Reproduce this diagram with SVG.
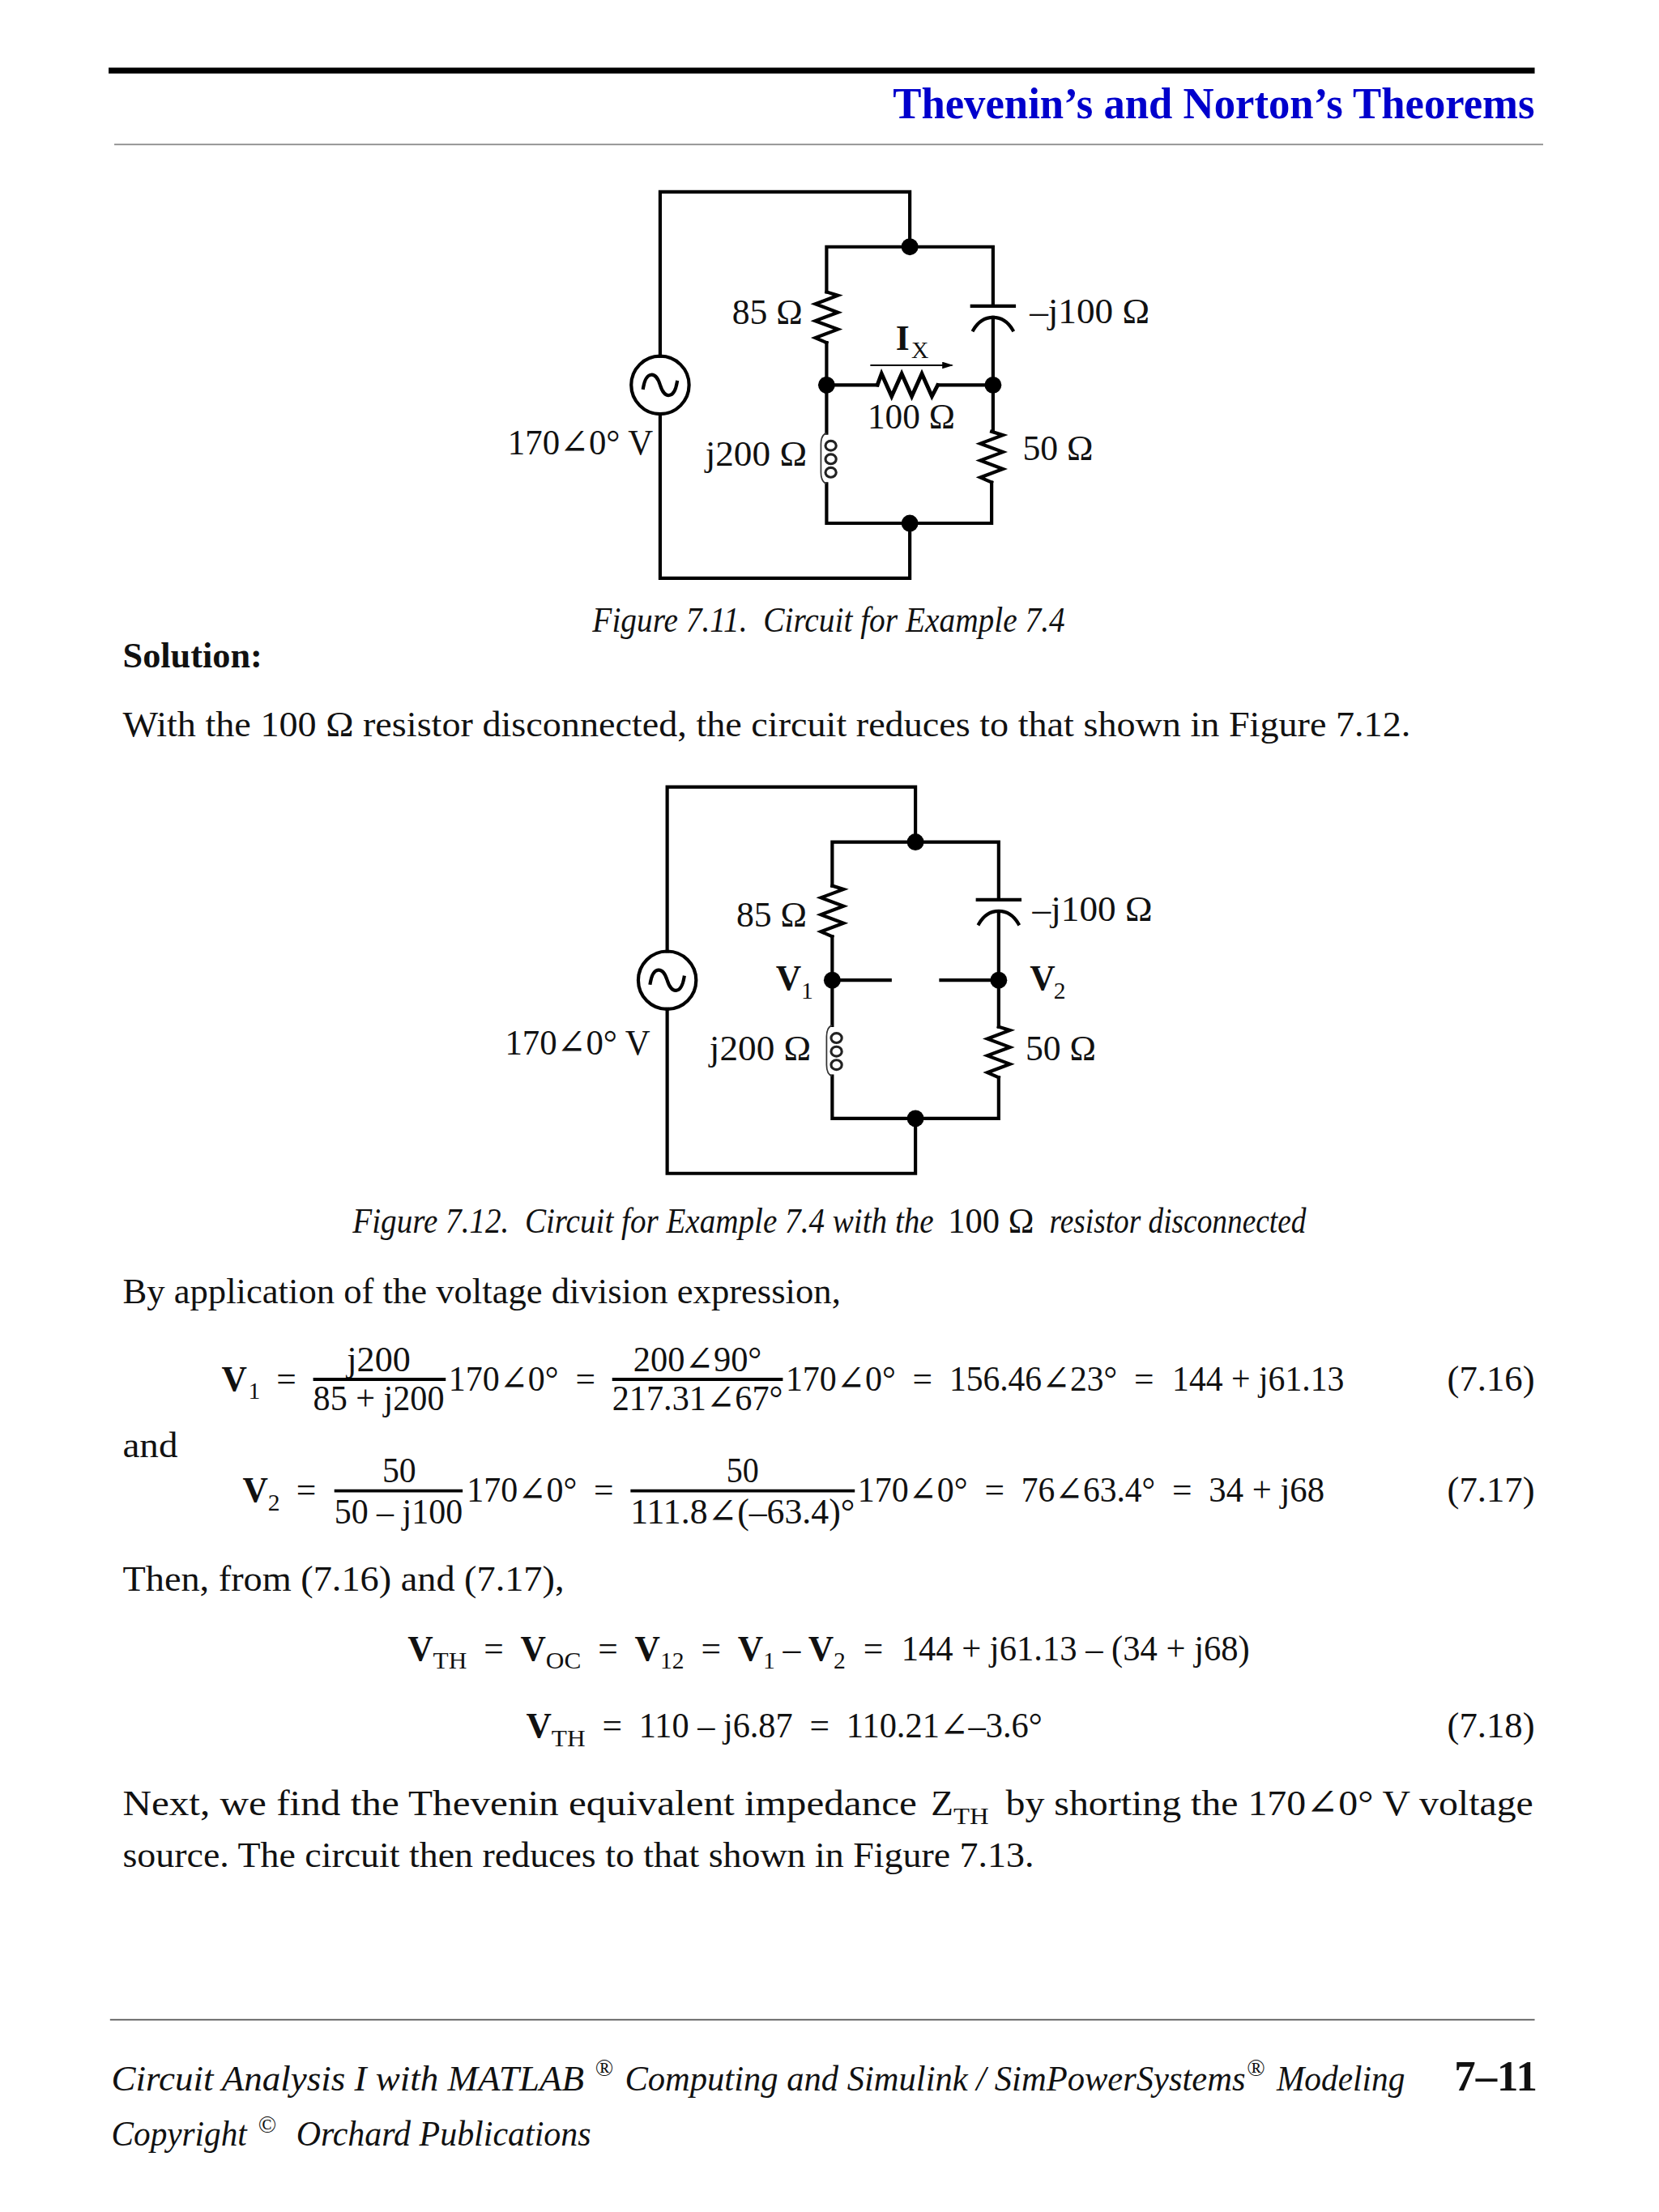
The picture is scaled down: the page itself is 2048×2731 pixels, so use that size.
<svg xmlns="http://www.w3.org/2000/svg" width="2048" height="2731" viewBox="0 0 2048 2731">
<style>
text{font-family:"Liberation Serif","DejaVu Serif",serif;fill:#111;white-space:pre}
.b{font-size:26px}.c{font-size:25px}.i{font-size:26px;font-style:italic}.bd{font-weight:bold}.s{font-size:17px}
.hd{font-size:32px;font-weight:bold;fill:#0000cc}
.pg{font-size:30px;font-weight:bold}.sup{font-size:17px}
.w{fill:none;stroke:#000;stroke-width:2.4;stroke-linecap:square;stroke-linejoin:miter}
.f{fill:#000;stroke:none}.bar{stroke:#000;stroke-width:2.2;fill:none}
.ind{fill:none;stroke:#333;stroke-width:1}.ring{fill:none;stroke:#222;stroke-width:1.8}
</style>
<defs>
<marker id="ah" markerWidth="8" markerHeight="6" refX="7" refY="2.5" orient="auto" markerUnits="userSpaceOnUse"><path d="M0,0L8,2.5L0,5z" fill="#000"/></marker>
<path id="zig" class="w" d="M0,0l8,2.5l-16,6l16,6l-16,6l16,6l-16,6l8,3.5"/>
<g id="coil"><path class="ind" d="M0,0c-3,1,-4,4,-4,8v20c0,4,1,7,4,8"/><ellipse class="ring" cx="3" cy="9" rx="3.8" ry="3.4"/><ellipse class="ring" cx="3" cy="18.5" rx="3.8" ry="3.4"/><ellipse class="ring" cx="3" cy="28" rx="3.8" ry="3.4"/></g>
<g id="acs"><circle class="w" r="20.5" fill="#fff"/><path class="w" d="M-12,2c2,-12,9,-12,12,-2s10,10,12,-2"/></g>
<g id="cap"><path class="w" d="M-15,0h30"/><path class="w" d="M-14,17c4,-7,9,-9,14,-9s10,2,14,9"/></g>
</defs>
<g transform="scale(1.7413 1.7413)">
<g id="page-rules"><path d="M77,50H1088" stroke="#000" stroke-width="4.2"/><path d="M81,102.5H1094" stroke="#888" stroke-width="1"/><path d="M78,1432H1088" stroke="#555" stroke-width="1"/></g>
<text id="header" class="hd" x="633" y="84" textLength="455" lengthAdjust="spacingAndGlyphs">Thevenin’s and Norton’s Theorems</text>

<g id="fig1-connectors"><path class="w" d="M468,252.5V136H645V175M586,207V175H704V216M704,225V306M586,243V307M586,343V371H703V342M645,371V410H468V293.5M586,273H622M665,273H704"/><path d="M617,259H675" stroke="#000" stroke-width="1.2" marker-end="url(#ah)"/></g>
<g id="fig1-source"><use href="#acs" x="468" y="273"/><text class="c" x="360" y="322" textLength="103" lengthAdjust="spacingAndGlyphs">170∠0° V</text></g>
<g id="fig1-r85"><use href="#zig" x="586" y="207"/><text class="c" x="519" y="230" textLength="50" lengthAdjust="spacingAndGlyphs">85 Ω</text></g>
<g id="fig1-cap"><use href="#cap" x="704" y="217"/><text class="c" x="730" y="229" textLength="85" lengthAdjust="spacingAndGlyphs">–j100 Ω</text></g>
<g id="fig1-r100"><use href="#zig" transform="translate(622 273) rotate(-90) scale(1 1.19)"/><text class="c bd" x="635" y="248">I</text><text class="s" x="646" y="254">X</text><text class="c" x="615" y="304" textLength="62" lengthAdjust="spacingAndGlyphs">100 Ω</text></g>
<g id="fig1-l"><use href="#coil" x="586" y="307"/><text class="c" x="500" y="330" textLength="72" lengthAdjust="spacingAndGlyphs">j200 Ω</text></g>
<g id="fig1-r50"><use href="#zig" x="703" y="306"/><text class="c" x="725" y="326" textLength="50" lengthAdjust="spacingAndGlyphs">50 Ω</text></g>
<g id="fig1-nodes"><circle class="f" cx="645" cy="175" r="6"/><circle class="f" cx="586" cy="273" r="6"/><circle class="f" cx="704" cy="273" r="6"/><circle class="f" cx="645" cy="371" r="6"/></g>
<text id="fig1-caption" class="i" x="420" y="448" textLength="335" lengthAdjust="spacingAndGlyphs">Figure 7.11.  Circuit for Example 7.4</text>

<text class="b bd" x="87" y="473" textLength="99" lengthAdjust="spacingAndGlyphs">Solution:</text>
<text class="b" x="87" y="522" textLength="913" lengthAdjust="spacingAndGlyphs">With the 100 Ω resistor disconnected, the circuit reduces to that shown in Figure 7.12.</text>

<g id="fig2-connectors"><path class="w" d="M473,674.5V558H649V597M590,628V597H708V638M708,647V728M590,664V727M590,763V793H708V764M649,793V832H473V715.5M590,695H631M667,695H708"/></g>
<g id="fig2-source"><use href="#acs" x="473" y="695"/><text class="c" x="358" y="748" textLength="103" lengthAdjust="spacingAndGlyphs">170∠0° V</text></g>
<g id="fig2-r85"><use href="#zig" x="590" y="628"/><text class="c" x="522" y="657" textLength="50" lengthAdjust="spacingAndGlyphs">85 Ω</text></g>
<g id="fig2-cap"><use href="#cap" x="708" y="638"/><text class="c" x="732" y="653" textLength="85" lengthAdjust="spacingAndGlyphs">–j100 Ω</text></g>
<g id="fig2-v1"><circle class="f" cx="590" cy="695" r="6"/><text class="c bd" x="550" y="702">V</text><text class="s" x="568" y="708">1</text></g>
<g id="fig2-v2"><circle class="f" cx="708" cy="695" r="6"/><text class="c bd" x="730" y="702">V</text><text class="s" x="747" y="708">2</text></g>
<g id="fig2-l"><use href="#coil" x="590" y="727"/><text class="c" x="503" y="752" textLength="72" lengthAdjust="spacingAndGlyphs">j200 Ω</text></g>
<g id="fig2-r50"><use href="#zig" x="708" y="728"/><text class="c" x="727" y="752" textLength="50" lengthAdjust="spacingAndGlyphs">50 Ω</text></g>
<g id="fig2-nodes"><circle class="f" cx="649" cy="597" r="6"/><circle class="f" cx="649" cy="793" r="6"/></g>

<g id="fig2-caption"><text class="i" x="250" y="874" textLength="412" lengthAdjust="spacingAndGlyphs">Figure 7.12.  Circuit for Example 7.4 with the</text><text class="b" x="672" y="874" textLength="61" lengthAdjust="spacingAndGlyphs">100 Ω</text><text class="i" x="744" y="874" textLength="182" lengthAdjust="spacingAndGlyphs">resistor disconnected</text></g>

<text class="b" x="87" y="924" textLength="509" lengthAdjust="spacingAndGlyphs">By application of the voltage division expression,</text>

<g id="eq716">
<text class="c bd" x="157" y="986">V</text><text class="s" x="176" y="992">1</text><text class="c" x="196" y="986">=</text>
<text class="c" x="246" y="972" textLength="45" lengthAdjust="spacingAndGlyphs">j200</text><path class="bar" d="M222,978H316"/><text class="c" x="222" y="1000" textLength="93" lengthAdjust="spacingAndGlyphs">85 + j200</text>
<text class="c" x="318" y="986" textLength="78" lengthAdjust="spacingAndGlyphs">170∠0°</text><text class="c" x="408" y="986">=</text>
<text class="c" x="449" y="972" textLength="91" lengthAdjust="spacingAndGlyphs">200∠90°</text><path class="bar" d="M434,978H555"/><text class="c" x="434" y="1000" textLength="121" lengthAdjust="spacingAndGlyphs">217.31∠67°</text>
<text class="c" x="557" y="986" textLength="78" lengthAdjust="spacingAndGlyphs">170∠0°</text><text class="c" x="647" y="986">=</text>
<text class="c" x="673" y="986" textLength="119" lengthAdjust="spacingAndGlyphs">156.46∠23°</text><text class="c" x="804" y="986">=</text>
<text class="c" x="831" y="986" textLength="122" lengthAdjust="spacingAndGlyphs">144 + j61.13</text>
<text class="b" x="1026" y="986" textLength="62" lengthAdjust="spacingAndGlyphs">(7.16)</text>
</g>
<text class="b" x="87" y="1033" textLength="39" lengthAdjust="spacingAndGlyphs">and</text>
<g id="eq717">
<text class="c bd" x="172" y="1065">V</text><text class="s" x="190" y="1071">2</text><text class="c" x="210" y="1065">=</text>
<text class="c" x="271" y="1051" textLength="24" lengthAdjust="spacingAndGlyphs">50</text><path class="bar" d="M237,1057H328"/><text class="c" x="237" y="1080" textLength="91" lengthAdjust="spacingAndGlyphs">50 – j100</text>
<text class="c" x="331" y="1065" textLength="78" lengthAdjust="spacingAndGlyphs">170∠0°</text><text class="c" x="421" y="1065">=</text>
<text class="c" x="515" y="1051" textLength="23" lengthAdjust="spacingAndGlyphs">50</text><path class="bar" d="M447,1057H606"/><text class="c" x="447" y="1080" textLength="159" lengthAdjust="spacingAndGlyphs">111.8∠(–63.4)°</text>
<text class="c" x="608" y="1065" textLength="78" lengthAdjust="spacingAndGlyphs">170∠0°</text><text class="c" x="698" y="1065">=</text>
<text class="c" x="724" y="1065" textLength="95" lengthAdjust="spacingAndGlyphs">76∠63.4°</text><text class="c" x="831" y="1065">=</text>
<text class="c" x="857" y="1065" textLength="82" lengthAdjust="spacingAndGlyphs">34 + j68</text>
<text class="b" x="1026" y="1065" textLength="62" lengthAdjust="spacingAndGlyphs">(7.17)</text>
</g>
<text class="b" x="87" y="1128" textLength="313" lengthAdjust="spacingAndGlyphs">Then, from (7.16) and (7.17),</text>
<g id="eq718a">
<text class="c bd" x="289" y="1177">V</text><text class="s" x="307" y="1183" textLength="24" lengthAdjust="spacingAndGlyphs">TH</text><text class="c" x="343" y="1177">=</text>
<text class="c bd" x="369" y="1177">V</text><text class="s" x="387" y="1183" textLength="25" lengthAdjust="spacingAndGlyphs">OC</text><text class="c" x="424" y="1177">=</text>
<text class="c bd" x="450" y="1177">V</text><text class="s" x="468" y="1183" textLength="17" lengthAdjust="spacingAndGlyphs">12</text><text class="c" x="497" y="1177">=</text>
<text class="c bd" x="523" y="1177">V</text><text class="s" x="541" y="1183">1</text><text class="c" x="555" y="1177">–</text>
<text class="c bd" x="573" y="1177">V</text><text class="s" x="591" y="1183">2</text><text class="c" x="612" y="1177">=</text>
<text class="c" x="639" y="1177" textLength="247" lengthAdjust="spacingAndGlyphs">144 + j61.13 – (34 + j68)</text>
</g>
<g id="eq718">
<text class="c bd" x="373" y="1232">V</text><text class="s" x="391" y="1238" textLength="24" lengthAdjust="spacingAndGlyphs">TH</text><text class="c" x="427" y="1232">=</text>
<text class="c" x="453" y="1232" textLength="109" lengthAdjust="spacingAndGlyphs">110 – j6.87</text><text class="c" x="574" y="1232">=</text>
<text class="c" x="600" y="1232" textLength="139" lengthAdjust="spacingAndGlyphs">110.21∠–3.6°</text>
<text class="b" x="1026" y="1232" textLength="62" lengthAdjust="spacingAndGlyphs">(7.18)</text>
</g>
<g id="para"><text class="b" x="87" y="1287" textLength="563" lengthAdjust="spacingAndGlyphs">Next, we find the Thevenin equivalent impedance</text><text class="b" x="660" y="1287">Z</text><text class="s" x="676" y="1293" textLength="25" lengthAdjust="spacingAndGlyphs">TH</text><text class="b" x="713" y="1287" textLength="374" lengthAdjust="spacingAndGlyphs">by shorting the 170∠0° V voltage</text>
<text class="b" x="87" y="1324" textLength="646" lengthAdjust="spacingAndGlyphs">source. The circuit then reduces to that shown in Figure 7.13.</text></g>
<g id="footer">
<text class="i" x="79" y="1482" textLength="335" lengthAdjust="spacingAndGlyphs">Circuit Analysis I with MATLAB</text><text class="sup" x="422" y="1472">®</text>
<text class="i" x="443" y="1482" textLength="440" lengthAdjust="spacingAndGlyphs">Computing and Simulink / SimPowerSystems</text><text class="sup" x="884" y="1472">®</text>
<text class="i" x="905" y="1482" textLength="91" lengthAdjust="spacingAndGlyphs">Modeling</text><text class="pg" x="1031" y="1482" textLength="59" lengthAdjust="spacingAndGlyphs">7–11</text>
<text class="i" x="79" y="1521" textLength="96" lengthAdjust="spacingAndGlyphs">Copyright</text><text class="sup" x="183" y="1512">©</text><text class="i" x="210" y="1521" textLength="209" lengthAdjust="spacingAndGlyphs">Orchard Publications</text>
</g>
</g>
</svg>
